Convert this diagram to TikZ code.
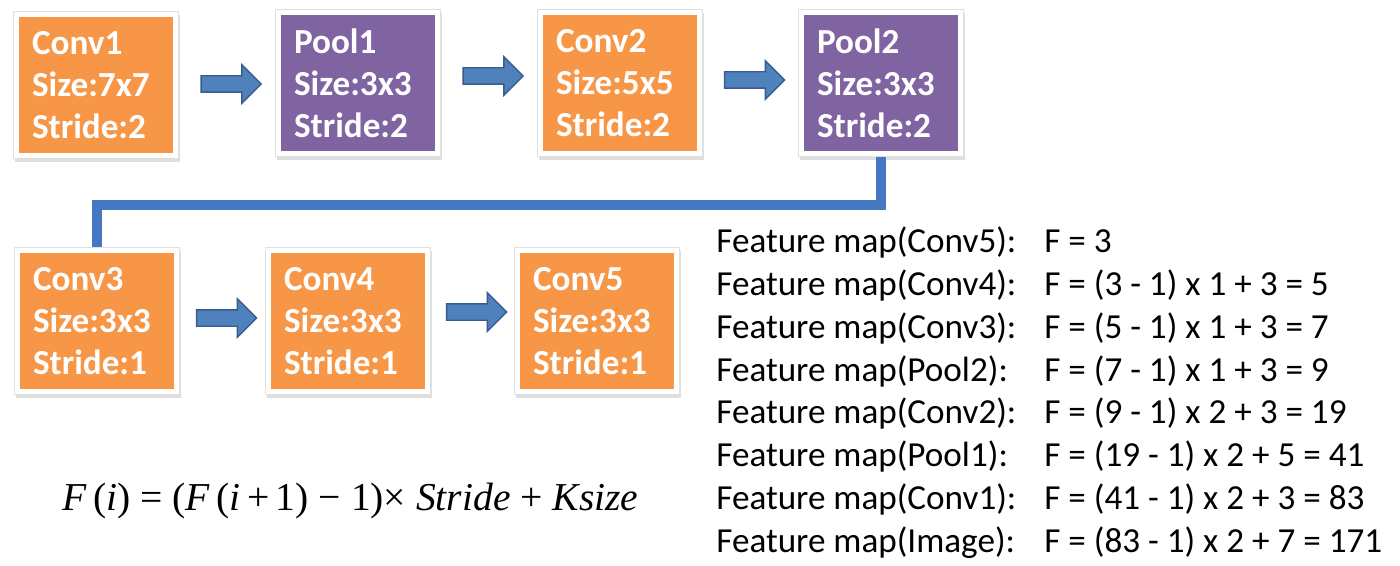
\documentclass[tikz,border=0pt]{standalone}
\usepackage{fontspec}
\setmainfont{Carlito}
\newfontfamily\timesf{Liberation Serif}
\usetikzlibrary{shapes.arrows,shadows,calc}

\definecolor{convorange}{HTML}{F79646}
\definecolor{poolpurple}{HTML}{8064A2}
\definecolor{arrowblue}{HTML}{4F81BD}
\definecolor{arrowedge}{HTML}{385D8A}
\definecolor{linkblue}{HTML}{4677C3}

\tikzset{
  layer/.style={rectangle, fill=white, draw=black!12, minimum width=3.3cm,
    minimum height=2.95cm, text width=2.56cm, inner sep=0pt, align=left,
    text=white, font=\bfseries\fontsize{20}{23.8}\selectfont,
    drop shadow={shadow xshift=0.6pt, shadow yshift=-2pt, opacity=0.25},
    path picture={\fill[#1] ([shift={(0.11,-0.11)}]path picture bounding box.north west)
      rectangle ([shift={(-0.11,0.11)}]path picture bounding box.south east);}},
  blockarrow/.style={single arrow, draw=arrowedge, fill=arrowblue, line width=0.8pt,
    minimum height=1.2cm, inner sep=0.15cm, single arrow head extend=0.22cm},
  link/.style={draw=linkblue, line width=0.2cm},
  fmline/.style={anchor=base west, inner sep=0pt, font=\fontsize{20}{22}\selectfont}
}

\newcommand{\vi}[1]{{\itshape #1}}

\begin{document}
\begin{tikzpicture}
  \useasboundingbox (0,0) rectangle (28,-11.32);

  % Define layer boxes
  \node (conv1) at (1.92,-1.70) [layer=convorange] {Conv1\\Size:7x7\\Stride:2};
  \node (pool1) at (7.16,-1.66) [layer=poolpurple] {Pool1\\Size:3x3\\Stride:2};
  \node (conv2) at (12.40,-1.66) [layer=convorange] {Conv2\\Size:5x5\\Stride:2};
  \node (pool2) at (17.62,-1.66) [layer=poolpurple] {Pool2\\Size:3x3\\Stride:2};
  \node (conv3) at (1.94,-6.42) [layer=convorange] {Conv3\\Size:3x3\\Stride:1};
  \node (conv4) at (6.96,-6.42) [layer=convorange] {Conv4\\Size:3x3\\Stride:1};
  \node (conv5) at (11.94,-6.42) [layer=convorange] {Conv5\\Size:3x3\\Stride:1};

  % Draw arrows
  \node (a1) at ($(conv1.east)!0.5!(pool1.west)$) [blockarrow] {};
  \node (a2) at ($(pool1.east)!0.5!(conv2.west)+(0,0.14)$) [blockarrow] {};
  \node (a3) at ($(conv2.east)!0.5!(pool2.west)+(0,0.06)$) [blockarrow] {};
  \node (a4) at ($(conv3.east)!0.5!(conv4.west)+(0,0.06)$) [blockarrow] {};
  \node (a5) at ($(conv4.east)!0.5!(conv5.west)+(0,0.18)$) [blockarrow] {};

  % Link between the two rows
  \draw[link] (pool2.south) -- ++(0,-0.96) -| (conv3.north);

  % Feature map sizes
  \foreach \lname/\fval [count=\i] in {Conv5/{F = 3},
      Conv4/{F = (3 - 1) x 1 + 3 = 5},
      Conv3/{F = (5 - 1) x 1 + 3 = 7},
      Pool2/{F = (7 - 1) x 1 + 3 = 9},
      Conv2/{F = (9 - 1) x 2 + 3 = 19},
      Pool1/{F = (19 - 1) x 2 + 5 = 41},
      Conv1/{F = (41 - 1) x 2 + 3 = 83},
      Image/{F = (83 - 1) x 2 + 7 = 171}} {
    \node (fm\i) at (14.32,{-5.05-0.857*(\i-1)}) [fmline] {Feature map(\lname):};
    \node (fv\i) at (20.88,{-5.05-0.857*(\i-1)}) [fmline] {\fval};
  }

  % Formula
  \node (formula) at (1.24,-10.2) [anchor=base west, inner sep=0pt,
    font=\timesf\fontsize{22.5}{26}\selectfont]
    {\vi{F}\,(\vi{i}) = (\vi{F}\,(\vi{i}\,+\,1) − 1)× \vi{Stride} + \vi{Ksize}};
\end{tikzpicture}
\end{document}
